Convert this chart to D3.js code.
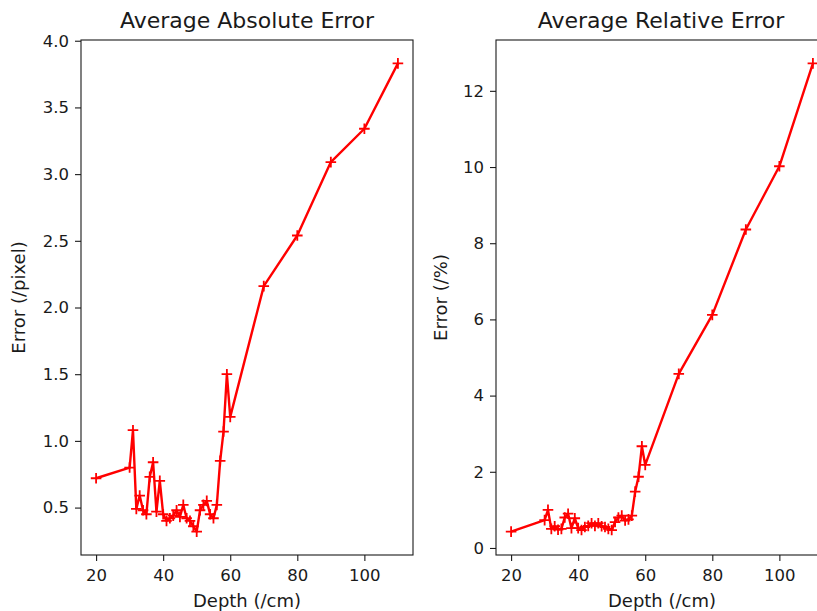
<!DOCTYPE html>
<html>
<head>
<meta charset="utf-8">
<script src="https://cdn.jsdelivr.net/npm/d3@7/dist/d3.min.js"></script>
<style>
  body { margin: 0; background: #fff; overflow: hidden; }
  text { font-family: "DejaVu Sans", sans-serif; fill: #1a1a1a; }
</style>
</head>
<body>
<svg id="chart" width="817" height="611"></svg>
<script>
// depth values shared by both panels (cm)
var depths = [20, 30, 31, 32, 33, 34, 35, 36, 37, 38, 39, 40, 41, 42, 43, 44, 45, 46, 47, 48,
              49, 50, 51, 52, 53, 54, 55, 56, 57, 58, 59, 60, 70, 80, 90, 100, 110];

// average absolute error (pixel)
var absError = [0.72, 0.80, 1.08, 0.49, 0.59, 0.48, 0.45, 0.73, 0.84, 0.47, 0.70, 0.45, 0.40, 0.42,
                0.44, 0.48, 0.43, 0.52, 0.42, 0.40, 0.36, 0.32, 0.48, 0.52, 0.55, 0.45, 0.42, 0.52,
                0.85, 1.07, 1.50, 1.18, 2.16, 2.54, 3.09, 3.34, 3.83];

// average relative error (%)
var relError = [0.43, 0.73, 1.00, 0.50, 0.57, 0.48, 0.50, 0.80, 0.90, 0.52, 0.78, 0.52, 0.47, 0.55,
                0.58, 0.65, 0.58, 0.65, 0.57, 0.55, 0.50, 0.47, 0.68, 0.80, 0.85, 0.72, 0.75, 0.85,
                1.48, 1.87, 2.67, 2.18, 4.57, 6.12, 8.36, 10.02, 12.72];

var xTicks = [20, 40, 60, 80, 100];
var absTicks = [0.5, 1.0, 1.5, 2.0, 2.5, 3.0, 3.5, 4.0];
var relTicks = [0, 2, 4, 6, 8, 10, 12];

var svg = d3.select('#chart');
svg.append('rect').attr('width', 817).attr('height', 611).attr('fill', '#fff');

var plotTop = 40, plotBottom = 555;

function drawPanel(opts) {
  var g = svg.append('g');

  // matplotlib style 5% margins on both axes
  var xExt = d3.extent(depths);
  var xPad = (xExt[1] - xExt[0]) * 0.05;
  var x = d3.scaleLinear()
    .domain([xExt[0] - xPad, xExt[1] + xPad])
    .range([opts.left, opts.right]);

  var yExt = d3.extent(opts.values);
  var yPad = (yExt[1] - yExt[0]) * 0.05;
  var y = d3.scaleLinear()
    .domain([yExt[0] - yPad, yExt[1] + yPad])
    .range([plotBottom, plotTop]);

  var pts = depths.map(function(d, i) { return [d, opts.values[i]]; });

  var line = d3.line()
    .x(function(d) { return x(d[0]); })
    .y(function(d) { return y(d[1]); });

  g.append('path')
    .datum(pts)
    .attr('d', line)
    .attr('fill', 'none')
    .attr('stroke', '#ff0000')
    .attr('stroke-width', 2.4)
    .attr('stroke-linejoin', 'round');

  // '+' markers
  var m = 5.3;
  g.selectAll('.mk')
    .data(pts)
    .enter().append('path')
    .attr('class', 'mk')
    .attr('d', function(d) {
      var cx = x(d[0]), cy = y(d[1]);
      return 'M' + (cx - m) + ',' + cy + 'H' + (cx + m) + 'M' + cx + ',' + (cy - m) + 'V' + (cy + m);
    })
    .attr('stroke', '#ff0000')
    .attr('stroke-width', 1.8);

  // axes
  var xAxis = d3.axisBottom(x).tickValues(xTicks).tickSize(6).tickPadding(6)
    .tickFormat(d3.format('d'));
  var yAxis = d3.axisLeft(y).tickValues(opts.ticks).tickSize(6).tickPadding(6)
    .tickFormat(opts.fmt);

  var gx = g.append('g').attr('transform', 'translate(0,' + plotBottom + ')').call(xAxis);
  var gy = g.append('g').attr('transform', 'translate(' + opts.left + ',0)').call(yAxis);
  [gx, gy].forEach(function(a) {
    a.select('.domain').remove();
    a.attr('font-family', null).attr('font-size', null);
    a.selectAll('.tick line').attr('stroke', '#1a1a1a').attr('stroke-width', 1.1);
    a.selectAll('.tick text').attr('fill', '#1a1a1a').style('font-size', '16.5px');
  });
  gx.selectAll('.tick text').attr('dy', '0.85em');

  // frame
  g.append('rect')
    .attr('x', opts.left).attr('y', plotTop)
    .attr('width', opts.right - opts.left).attr('height', plotBottom - plotTop)
    .attr('fill', 'none').attr('stroke', '#1a1a1a').attr('stroke-width', 1.1);

  var cx = (opts.left + opts.right) / 2;
  g.append('text')
    .attr('x', opts.titleX || cx).attr('y', 28)
    .attr('text-anchor', 'middle')
    .style('font-size', '22px')
    .text(opts.title);

  g.append('text')
    .attr('x', cx).attr('y', 607)
    .attr('text-anchor', 'middle')
    .style('font-size', '18px')
    .text('Depth (/cm)');

  g.append('text')
    .attr('transform', 'translate(' + opts.yLabelX + ',' + ((plotTop + plotBottom) / 2) + ') rotate(-90)')
    .attr('text-anchor', 'middle')
    .style('font-size', '18px')
    .text(opts.yLabel);
}

drawPanel({
  left: 81, right: 413, values: absError, ticks: absTicks,
  fmt: d3.format('.1f'), title: 'Average Absolute Error', yLabel: 'Error (/pixel)', yLabelX: 25
});

drawPanel({
  left: 496, right: 828, values: relError, ticks: relTicks,
  fmt: d3.format('d'), title: 'Average Relative Error', yLabel: 'Error (/%)', yLabelX: 447,
  titleX: 661
});
</script>
</body>
</html>
